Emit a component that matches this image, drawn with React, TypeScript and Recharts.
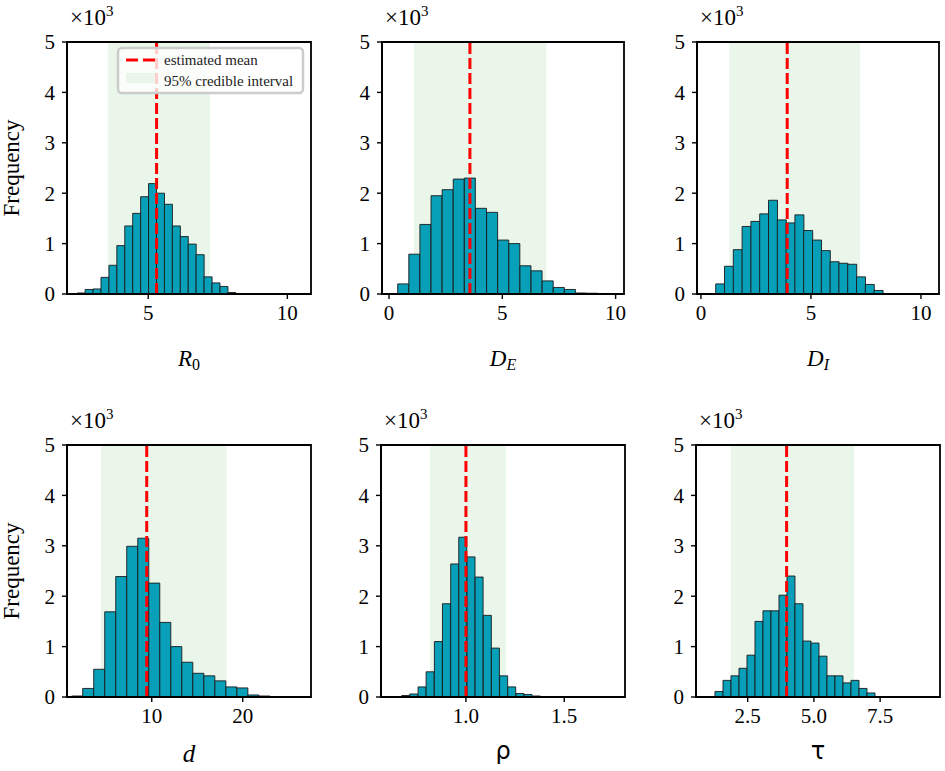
import React from 'react';
import { ComposedChart, Bar, XAxis, YAxis, ReferenceArea, ReferenceLine } from 'recharts';

// ---------- data (frequencies) ----------
const r0Centers = [2.589, 2.874, 3.159, 3.444, 3.729, 4.014, 4.299, 4.584, 4.869, 5.154, 5.439, 5.724, 6.009, 6.294, 6.579, 6.864, 7.149, 7.434, 7.719, 8.004];
const r0Counts = [20, 90, 100, 330, 570, 960, 1350, 1600, 1930, 2190, 2000, 1780, 1350, 1140, 990, 780, 340, 220, 150, 30];

const deCenters = [0.627, 1.118, 1.608, 2.099, 2.589, 3.08, 3.57, 4.061, 4.551, 5.042, 5.532, 6.023, 6.513, 7.004, 7.494, 7.985, 8.475, 8.966, 9.456];
const deCounts = [200, 790, 1380, 1950, 2070, 2280, 2300, 1700, 1620, 1070, 1000, 560, 460, 260, 130, 90, 20, 15, 10];

const diCenters = [0.87, 1.27, 1.67, 2.07, 2.47, 2.87, 3.27, 3.67, 4.07, 4.47, 4.87, 5.27, 5.67, 6.07, 6.47, 6.87, 7.27, 7.67, 8.07];
const diCounts = [200, 550, 880, 1340, 1440, 1590, 1860, 1470, 1410, 1570, 1260, 1070, 860, 640, 610, 590, 340, 190, 70];

const dCenters = [1.81, 3.02, 4.23, 5.44, 6.65, 7.86, 9.07, 10.28, 11.49, 12.7, 13.91, 15.12, 16.33, 17.54, 18.75, 19.96, 21.17, 22.38];
const dCounts = [20, 170, 550, 1690, 2390, 2990, 3150, 2260, 1480, 1000, 690, 470, 420, 320, 200, 180, 40, 20];

const rhoCenters = [0.694, 0.735, 0.777, 0.818, 0.86, 0.901, 0.943, 0.984, 1.026, 1.067, 1.109, 1.15, 1.192, 1.233, 1.275, 1.316, 1.358];
const rhoCounts = [30, 60, 200, 500, 1100, 1850, 2640, 3170, 2780, 2380, 1620, 970, 420, 200, 70, 50, 20];

const tauCenters = [1.417, 1.719, 2.021, 2.323, 2.625, 2.927, 3.229, 3.531, 3.833, 4.135, 4.437, 4.739, 5.041, 5.343, 5.645, 5.947, 6.249, 6.551, 6.853, 7.155];
const tauCounts = [110, 330, 420, 570, 830, 1500, 1710, 1710, 2020, 2400, 1850, 1110, 1070, 810, 420, 420, 280, 330, 170, 80];

// estimated mean and 95% credible interval per parameter
const means = [5.3, 3.57, 3.92, 9.45, 1.0, 3.97];
const ciLows = [3.56, 1.1, 1.29, 4.43, 0.817, 1.86];
const ciHighs = [7.22, 6.94, 7.23, 18.24, 1.203, 6.52];

// axis ticks
const yTicks = [0, 1000, 2000, 3000, 4000, 5000];
const r0Ticks = [5, 10];
const deTicks = [0, 5, 10];
const diTicks = [0, 5, 10];
const dTicks = [10, 20];
const rhoTicks = [1.0, 1.5];
const tauTicks = [2.5, 5.0, 7.5];

const legendLabels = ['estimated mean', '95% credible interval'];

// ---------- layout / style ----------
const ML = 67;
const MT = 42;
const MR = 8;
const XH = 84;
const Y_MAX = 5000;
const SERIF = '"Liberation Serif", "DejaVu Serif", serif';
const SANS = '"DejaVu Sans", sans-serif';
const BAR_FILL = '#089fb9';
const CI_FILL = '#eaf6ea';
const TICK_FS = 21;

type Spec = {
  centers: number[];
  counts: number[];
  mean: number;
  lo: number;
  hi: number;
  domain: [number, number];
  ticks: number[];
  decimals: number;
  label: string;
  plotLeft: number;
  plotTop: number;
  plotW: number;
  plotH: number;
  yLabel: boolean;
  labelOffset: number;
};

const specs: Spec[] = [
  { centers: r0Centers, counts: r0Counts, mean: means[0], lo: ciLows[0], hi: ciHighs[0], domain: [2.08, 10.85], ticks: r0Ticks, decimals: 0, label: 'R0', plotLeft: 67, plotTop: 42, plotW: 244, plotH: 252, yLabel: true, labelOffset: 72 },
  { centers: deCenters, counts: deCounts, mean: means[1], lo: ciLows[1], hi: ciHighs[1], domain: [-0.31, 10.37], ticks: deTicks, decimals: 0, label: 'DE', plotLeft: 382, plotTop: 42, plotW: 242, plotH: 252, yLabel: false, labelOffset: 72 },
  { centers: diCenters, counts: diCounts, mean: means[2], lo: ciLows[2], hi: ciHighs[2], domain: [-0.18, 10.82], ticks: diTicks, decimals: 0, label: 'DI', plotLeft: 697, plotTop: 42, plotW: 242, plotH: 252, yLabel: false, labelOffset: 72 },
  { centers: dCenters, counts: dCounts, mean: means[3], lo: ciLows[3], hi: ciHighs[3], domain: [0.69, 27.5], ticks: dTicks, decimals: 0, label: 'd', plotLeft: 67, plotTop: 445, plotW: 244, plotH: 252, yLabel: true, labelOffset: 65 },
  { centers: rhoCenters, counts: rhoCounts, mean: means[4], lo: ciLows[4], hi: ciHighs[4], domain: [0.568, 1.809], ticks: rhoTicks, decimals: 1, label: 'ρ', plotLeft: 381, plotTop: 445, plotW: 244, plotH: 252, yLabel: false, labelOffset: 62 },
  { centers: tauCenters, counts: tauCounts, mean: means[5], lo: ciLows[5], hi: ciHighs[5], domain: [0.55, 9.76], ticks: tauTicks, decimals: 1, label: 'τ', plotLeft: 696, plotTop: 445, plotW: 244, plotH: 252, yLabel: false, labelOffset: 62 },
];

function XTick(props: any) {
  const { x, y, payload, decimals } = props;
  return (
    <text x={x} y={y} dy="0.72em" textAnchor="middle" fontFamily={SERIF} fontSize={TICK_FS} fill="#000">
      {Number(payload.value).toFixed(decimals)}
    </text>
  );
}

function YTick(props: any) {
  const { x, y, payload } = props;
  return (
    <text x={x} y={y} dy="0.35em" textAnchor="end" fontFamily={SERIF} fontSize={TICK_FS} fill="#000">
      {String(Number(payload.value) / 1000)}
    </text>
  );
}

function XLabelText({ spec }: { spec: Spec }) {
  const x = ML + spec.plotW / 2;
  const y = MT + spec.plotH + spec.labelOffset;
  if (spec.label === 'ρ' || spec.label === 'τ') {
    return (
      <text x={x} y={y} textAnchor="middle" fontFamily={SANS} fontSize={24} fill="#000">
        {spec.label}
      </text>
    );
  }
  if (spec.label === 'd') {
    return (
      <text x={x} y={y} textAnchor="middle" fontFamily={SERIF} fontStyle="italic" fontSize={25} fill="#000">
        d
      </text>
    );
  }
  const main = spec.label.charAt(0);
  const sub = spec.label.charAt(1);
  return (
    <text x={x} y={y} textAnchor="middle" fontFamily={SERIF} fontSize={23} fill="#000">
      <tspan fontStyle="italic">{main}</tspan>
      <tspan fontSize={16} dy={4} fontStyle={sub === '0' ? 'normal' : 'italic'}>{sub}</tspan>
    </text>
  );
}

function YLabelGroup({ spec }: { spec: Spec }) {
  const fx = 19 - (spec.plotLeft - ML);
  const fy = MT + spec.plotH / 2;
  return (
    <g>
      <text x={ML + 3} y={MT - 17} fontFamily={SERIF} fontSize={23} fill="#000">
        ×10
        <tspan fontSize={15} dy={-9}>3</tspan>
      </text>
      {spec.yLabel ? (
        <text x={fx} y={fy} textAnchor="middle" fontFamily={SERIF} fontSize={23} fill="#000" transform={`rotate(-90, ${fx}, ${fy})`}>
          Frequency
        </text>
      ) : null}
    </g>
  );
}

function Panel({ spec }: { spec: Spec }) {
  const W = spec.plotW + ML + MR;
  const H = MT + spec.plotH + XH;
  const data = spec.centers.map((c, i) => ({ x: c, y: spec.counts[i] }));
  return (
    <div style={{ position: 'absolute', left: spec.plotLeft - ML, top: spec.plotTop - MT, width: W, height: H }}>
      <ComposedChart width={W} height={H} data={data} margin={{ top: MT, right: MR, bottom: 0, left: 0 }} barCategoryGap={0} barGap={0}>
        <XAxis
          dataKey="x"
          type="number"
          domain={spec.domain}
          ticks={spec.ticks}
          allowDataOverflow
          interval={0}
          height={XH}
          tick={(p: any) => <XTick {...p} decimals={spec.decimals} />}
          tickLine={{ stroke: '#000', strokeWidth: 1.4 }}
          axisLine={{ stroke: '#000', strokeWidth: 1.8 }}
          tickSize={5}
          tickMargin={6}
          label={{ content: () => <XLabelText spec={spec} /> }}
        />
        <YAxis
          type="number"
          domain={[0, Y_MAX]}
          ticks={yTicks}
          interval={0}
          width={ML}
          tick={(p: any) => <YTick {...p} />}
          tickLine={{ stroke: '#000', strokeWidth: 1.4 }}
          axisLine={{ stroke: '#000', strokeWidth: 1.8 }}
          tickSize={5}
          tickMargin={7}
          label={{ content: () => <YLabelGroup spec={spec} /> }}
        />
        <ReferenceArea x1={spec.lo} x2={spec.hi} y1={0} y2={Y_MAX} fill={CI_FILL} fillOpacity={1} stroke="none" ifOverflow="hidden" />
        <Bar dataKey="y" fill={BAR_FILL} stroke="#1a1a1a" strokeWidth={0.9} isAnimationActive={false} />
        <ReferenceLine x={spec.mean} stroke="#ff0000" strokeWidth={3} strokeDasharray="11 4" />
        <ReferenceArea x1={spec.domain[0]} x2={spec.domain[1]} y1={0} y2={Y_MAX} fill="none" fillOpacity={0} stroke="#000" strokeWidth={1.8} ifOverflow="visible" />
      </ComposedChart>
    </div>
  );
}

function LegendBox() {
  return (
    <svg width={945} height={771} style={{ position: 'absolute', left: 0, top: 0, pointerEvents: 'none' }}>
      <rect x={118} y={48} width={185} height={45} rx={4} fill="#ffffff" fillOpacity={0.8} stroke="#cccccc" strokeWidth={2.5} />
      <line x1={126} x2={155} y1={60} y2={60} stroke="#ff0000" strokeWidth={3} strokeDasharray="12 5" />
      <rect x={126} y={73} width={29} height={10} fill={CI_FILL} />
      <text x={164} y={65} fontFamily={SERIF} fontSize={15} fill="#222">{legendLabels[0]}</text>
      <text x={164} y={86} fontFamily={SERIF} fontSize={15} fill="#222">{legendLabels[1]}</text>
    </svg>
  );
}

export default function App() {
  return (
    <div style={{ position: 'absolute', left: 0, top: 0, width: 945, height: 771, background: '#fff', overflow: 'hidden' }}>
      {specs.map((s, i) => (
        <Panel key={i} spec={s} />
      ))}
      <LegendBox />
    </div>
  );
}
